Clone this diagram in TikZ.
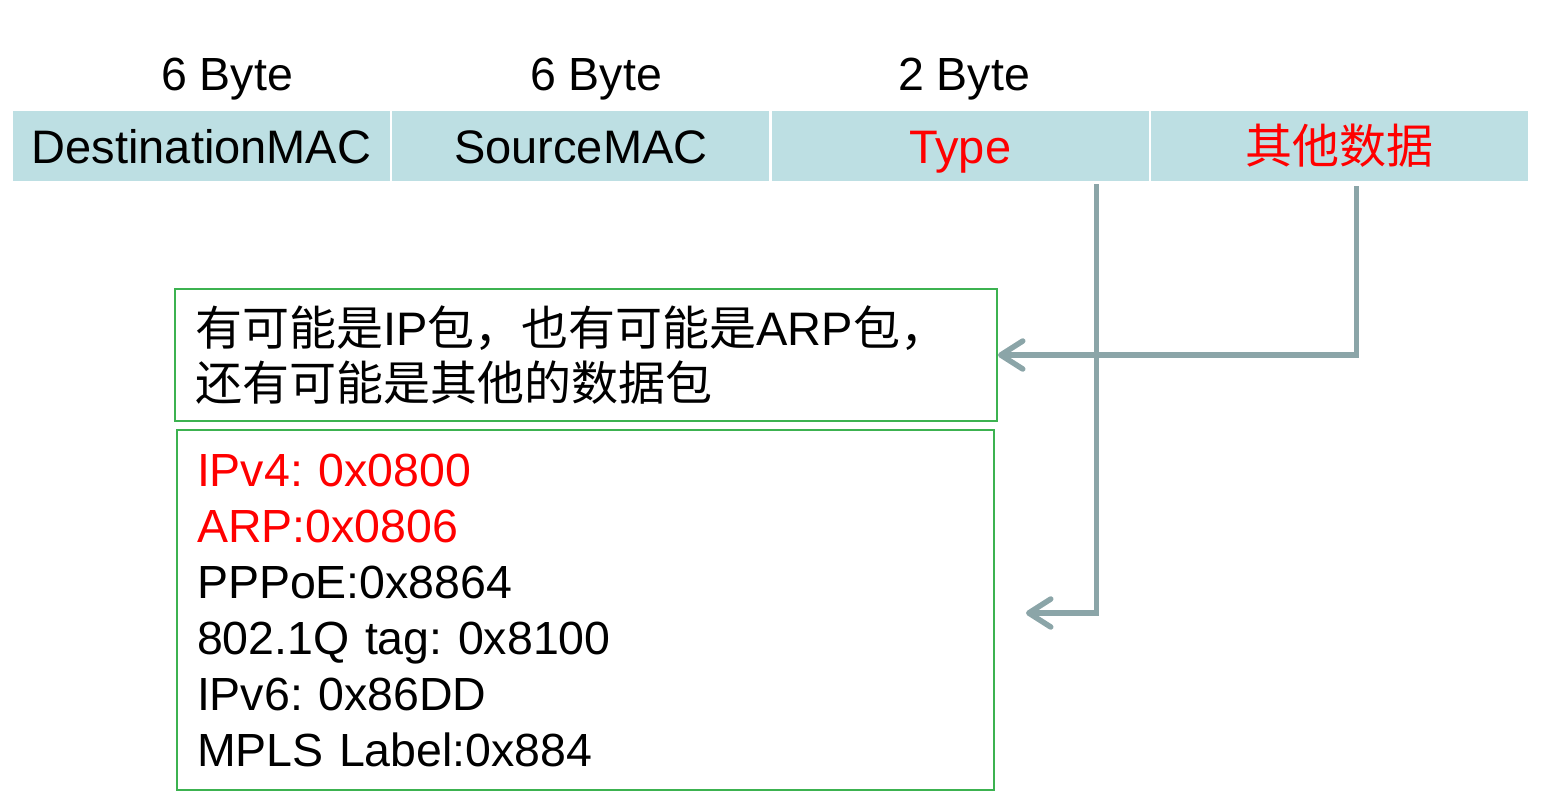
\documentclass[tikz,border=0pt]{standalone}
\usepackage{fontspec}
\setmainfont{Liberation Sans}
\newfontfamily\cjk{Noto Sans CJK SC}
\usetikzlibrary{positioning, arrows.meta}
\definecolor{cellblue}{RGB}{189,223,227}
\definecolor{linegray}{RGB}{139,165,168}
\definecolor{boxgreen}{RGB}{60,178,80}
\frenchspacing

\begin{document}
\begin{tikzpicture}[x=1pt, y=-1pt, node distance=2pt,
    field/.style={fill=cellblue, minimum width=377pt, minimum height=70pt, inner sep=0pt,
        text height=34pt, text depth=0pt, font=\fontsize{47}{56}\selectfont},
    size/.style={anchor=base, font=\fontsize{46.5}{56}\selectfont},
    note/.style={draw=boxgreen, line width=2pt, align=left, inner xsep=20pt, inner ysep=0pt},
    link/.style={draw=linegray, line width=5.5pt},
    >={Straight Barb[length=22pt, width=28pt, round]}]
    \useasboundingbox (0,0) rectangle (1542,806);

    \node[field] (dst) at (201.5,146) {DestinationMAC};
    \node[field] (src) [right=of dst] {SourceMAC};
    \node[field, text=red] (type) [right=of src] {Type};
    \node[field, text=red] (data) [right=of type] {\cjk 其他数据};

    \node[size] (len1) at (227,90) {6 Byte};
    \node[size] (len2) at (596,90) {6 Byte};
    \node[size] (len3) at (964,90) {2 Byte};

    \node[note, text width=782pt, minimum height=132pt, font=\fontsize{47}{55}\selectfont] (hint) at (586,355)
        {{\cjk 有可能是}IP{\cjk 包，也有可能是}ARP{\cjk 包，}\\{\cjk 还有可能是其他的数据包}};
    \node[note, text width=777pt, minimum height=360pt, font=\fontsize{46.5}{56}\selectfont] (codes) at (585.5,610)
        {\textcolor{red}{IPv4: 0x0800}\\\textcolor{red}{ARP:0x0806}\\PPPoE:0x8864\\802.1Q tag: 0x8100\\IPv6: 0x86DD\\MPLS Label:0x884};

    \coordinate (typein) at ([xshift=31pt, yshift=-3pt]codes.east);
    \path[->]
        ([xshift=136pt, yshift=-3pt]type.south) edge [link, to path={|- (\tikztotarget)}] (typein)
        ([xshift=17pt, yshift=-5pt]data.south) edge [link, to path={|- (\tikztotarget)}] (hint.east);
\end{tikzpicture}
\end{document}
